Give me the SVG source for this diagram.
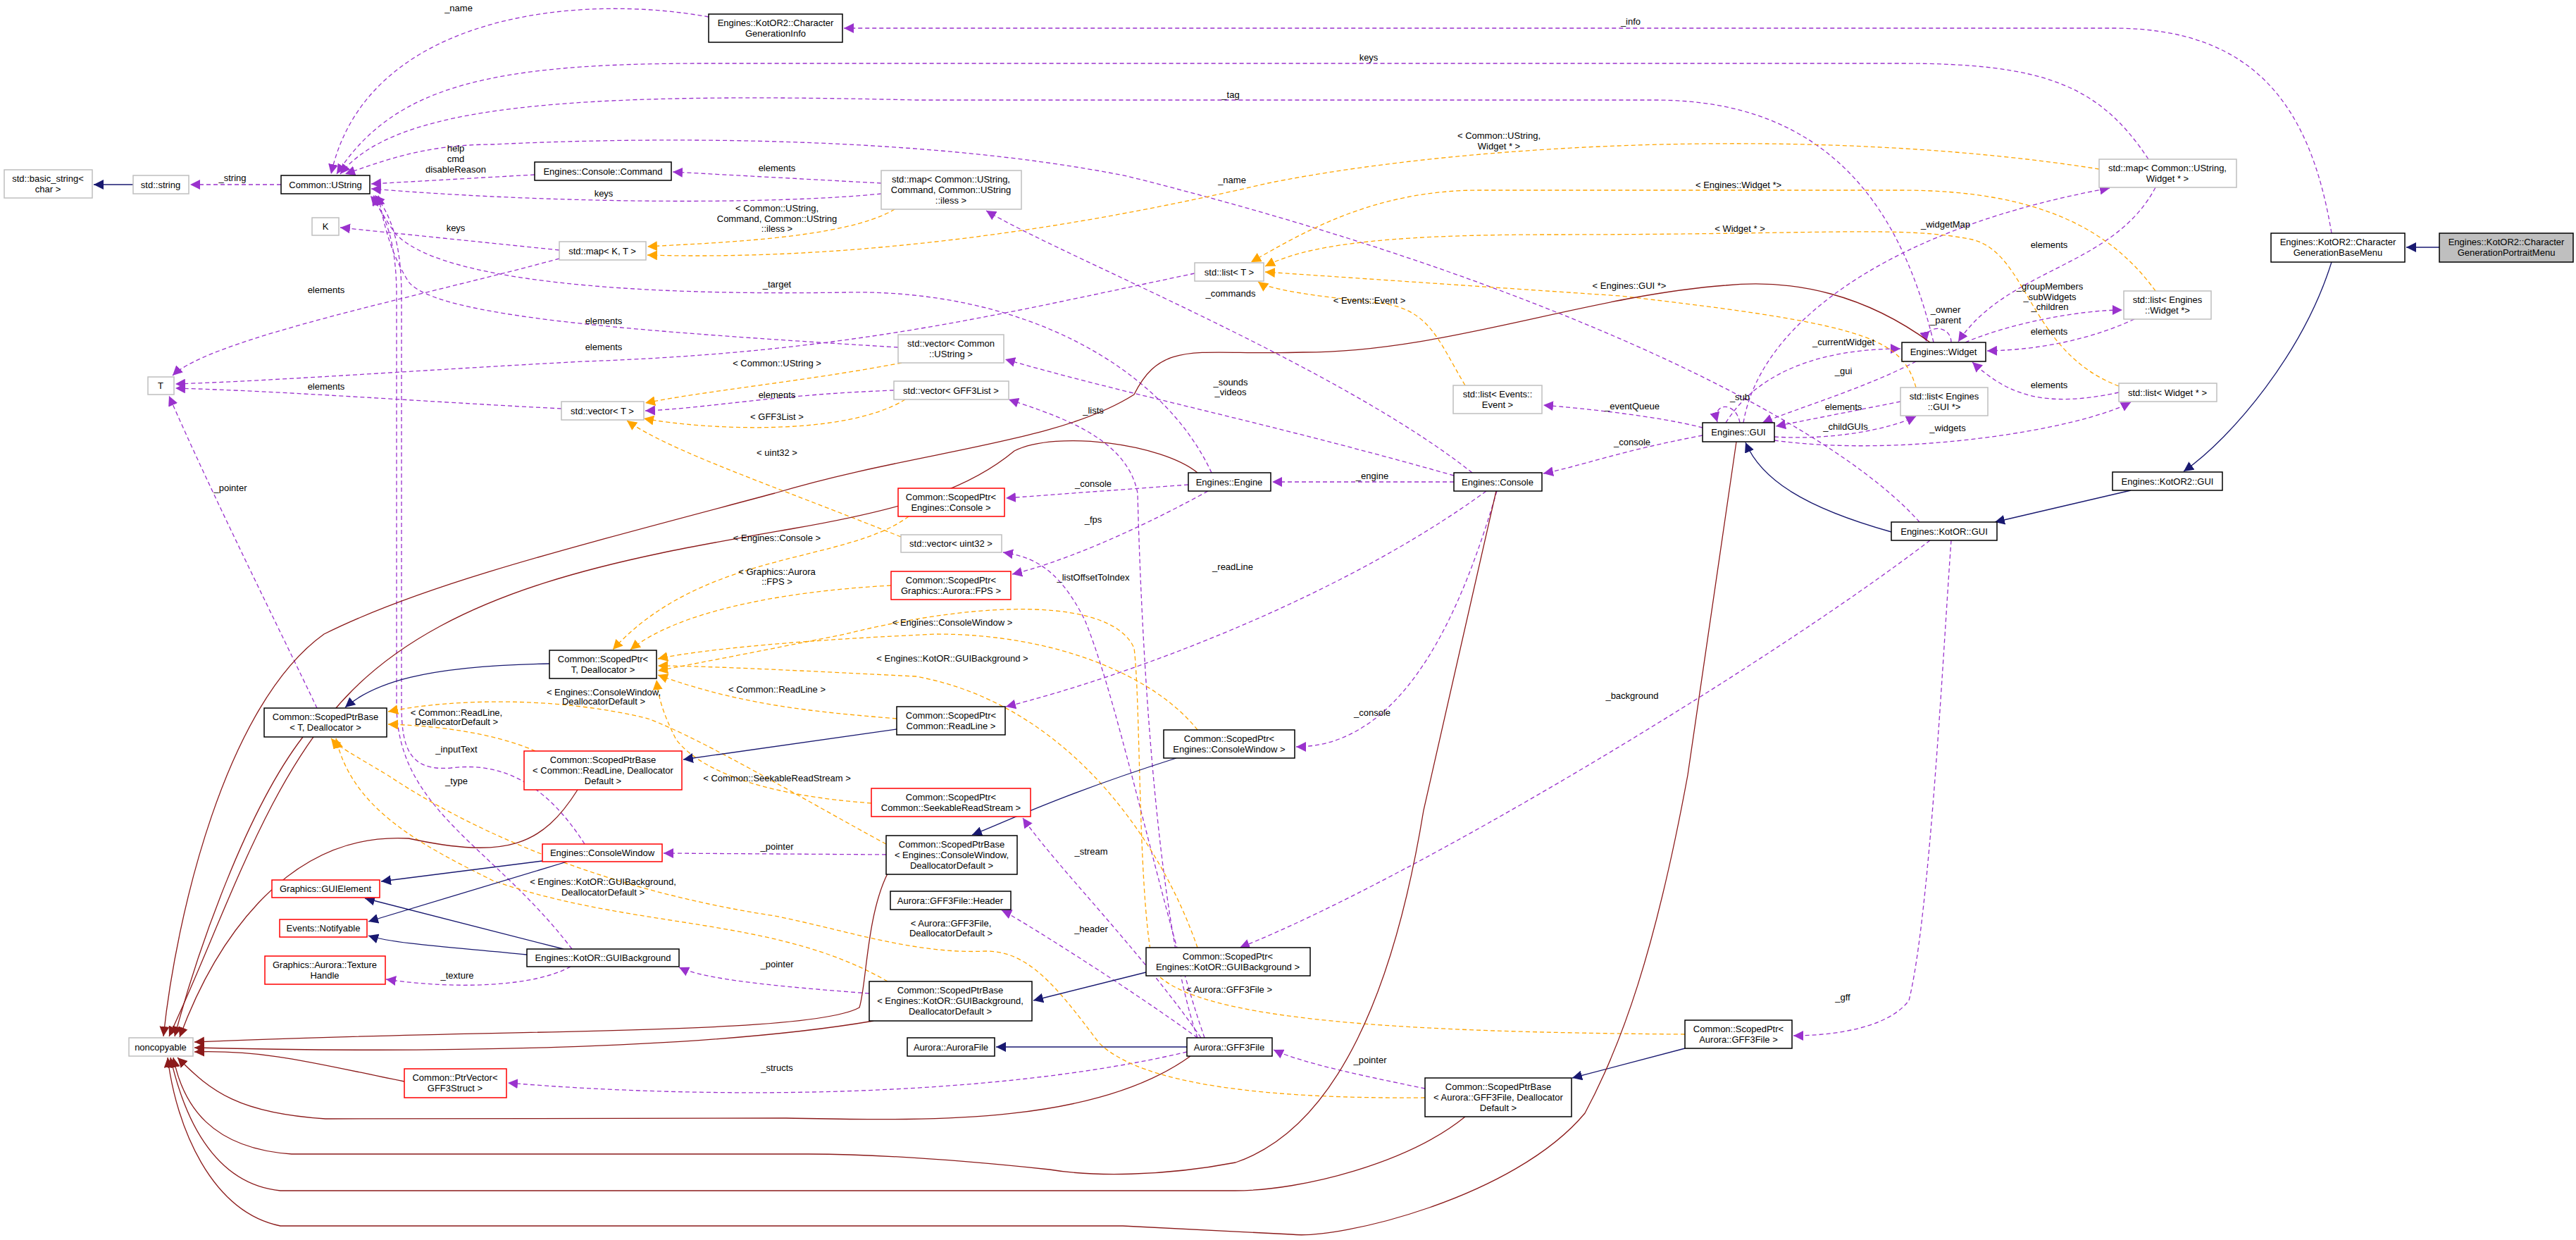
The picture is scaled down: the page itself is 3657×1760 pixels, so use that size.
<svg xmlns="http://www.w3.org/2000/svg" width="3657" height="1760" viewBox="0 0 3657 1760">
<style>
text{font-family:"Liberation Sans",Arial,sans-serif;font-size:13px;fill:#000;text-anchor:middle}
.b{fill:#fff;stroke:#000;stroke-width:1.5}
.g{fill:#fff;stroke:#bfbfbf;stroke-width:1.5}
.r{fill:#fff;stroke:#ff0000;stroke-width:1.5}
.f{fill:#bfbfbf;stroke:#000;stroke-width:1.5}
.p{fill:none;stroke:#9a32cd;stroke-width:1.3;stroke-dasharray:6,4;marker-end:url(#mp)}
.o{fill:none;stroke:#ffa500;stroke-width:1.3;stroke-dasharray:6,4;marker-end:url(#mo)}
.n{fill:none;stroke:#191970;stroke-width:1.3;marker-end:url(#mn)}
.d{fill:none;stroke:#8b1a1a;stroke-width:1.3;marker-end:url(#md)}
</style>
<defs>
<marker id="mp" viewBox="0 0 10 10" refX="10" refY="5" markerWidth="14" markerHeight="14" markerUnits="userSpaceOnUse" orient="auto"><path d="M0,0L10,5L0,10z" fill="#9a32cd"/></marker>
<marker id="mo" viewBox="0 0 10 10" refX="10" refY="5" markerWidth="14" markerHeight="14" markerUnits="userSpaceOnUse" orient="auto"><path d="M0,0L10,5L0,10z" fill="#ffa500"/></marker>
<marker id="mn" viewBox="0 0 10 10" refX="10" refY="5" markerWidth="14" markerHeight="14" markerUnits="userSpaceOnUse" orient="auto"><path d="M0,0L10,5L0,10z" fill="#191970"/></marker>
<marker id="md" viewBox="0 0 10 10" refX="10" refY="5" markerWidth="14" markerHeight="14" markerUnits="userSpaceOnUse" orient="auto"><path d="M0,0L10,5L0,10z" fill="#8b1a1a"/></marker>
</defs>
<rect width="3657" height="1760" fill="#fff"/>
<g id="edges">
<path class="p" d="M1006,24 C820,-10 520,20 470,247"/>
<path class="p" d="M3310,331 C3280,150 3200,40 3000,40 L1198,40"/>
<path class="p" d="M3050,226 C2980,120 2900,90 2700,90 L1000,90 C700,90 560,120 478,247"/>
<path class="p" d="M2745,486 C2700,300 2600,142 2350,142 L1300,142 C800,130 560,150 483,247"/>
<path class="p" d="M2725,741 C2600,600 2200,400 1600,250 C1300,190 900,195 700,205 C600,205 540,230 490,247"/>
<path class="p" d="M759,248 L527,261"/>
<path class="p" d="M1251,260 L955,244"/>
<path class="p" d="M1251,275 C1100,290 800,290 527,268"/>
<path class="p" d="M399,262 L270,262"/>
<path class="p" d="M794,355 L483,323"/>
<path class="p" d="M794,367 C600,420 300,480 245,533"/>
<path class="p" d="M1720,671 C1650,520 1450,410 1200,415 C900,420 620,400 560,330 C540,300 535,290 530,277"/>
<path class="p" d="M1275,493 C900,470 620,450 580,400 C555,360 545,320 537,277"/>
<path class="p" d="M1696,388 C1400,450 1200,500 829,513 C600,525 400,540 249,545"/>
<path class="p" d="M797,580 C600,570 400,555 249,551"/>
<path class="p" d="M1269,554 C1100,560 1000,580 916,583"/>
<path class="p" d="M450,1005 C400,900 300,700 240,562"/>
<path class="p" d="M2090,671 C1900,520 1500,360 1400,299"/>
<path class="p" d="M2064,675 C1800,600 1600,560 1427,510"/>
<path class="p" d="M1700,1473 C1640,1300 1620,900 1615,700 C1600,620 1500,590 1432,567"/>
<path class="p" d="M1710,1473 C1650,1300 1590,1000 1540,880 C1500,800 1460,790 1424,784"/>
<path class="p" d="M1687,688 L1428,707"/>
<path class="p" d="M1715,697 C1600,760 1500,800 1437,815"/>
<path class="p" d="M2064,684 L1806,684"/>
<path class="p" d="M2417,618 C2300,640 2250,660 2191,672"/>
<path class="p" d="M2417,607 C2350,590 2250,580 2191,575"/>
<path class="p" d="M2110,697 C1900,850 1600,960 1428,1003"/>
<path class="p" d="M2125,697 C2080,850 2000,1060 1840,1060"/>
<path class="p" d="M2740,767 C2500,950 2000,1250 1760,1345"/>
<path class="p" d="M2770,767 C2760,900 2740,1300 2710,1420 C2680,1460 2600,1470 2546,1470"/>
<path class="p" d="M2023,1545 C1950,1530 1850,1510 1808,1490"/>
<path class="p" d="M1685,1493 C1400,1560 1000,1560 721,1537"/>
<path class="p" d="M1700,1473 C1600,1400 1440,1300 1422,1292"/>
<path class="p" d="M1705,1473 C1620,1350 1500,1230 1452,1161"/>
<path class="p" d="M1234,1410 C1100,1400 1000,1390 964,1373"/>
<path class="p" d="M810,1372 C760,1400 650,1405 548,1390"/>
<path class="p" d="M1258,1213 L942,1211"/>
<path class="p" d="M830,1198 C780,1120 720,1080 640,1090 C580,1095 570,1060 570,1000 L570,420 C570,340 552,300 532,277"/>
<path class="p" d="M812,1347 C700,1200 563,1150 563,1000 L563,420 C563,340 545,300 526,278"/>
<path class="p" d="M2450,600 C2500,520 2600,495 2698,495"/>
<path class="p" d="M2720,513 C2650,550 2550,580 2502,600"/>
<path class="p" d="M2470,600 C2465,570 2430,570 2438,599"/>
<path class="p" d="M2770,486 C2770,460 2730,460 2735,485"/>
<path class="p" d="M2698,570 L2521,605"/>
<path class="p" d="M2519,620 C2600,625 2680,610 2720,591"/>
<path class="p" d="M2519,625 C2700,650 2950,610 3025,571"/>
<path class="p" d="M3008,557 C2900,580 2850,560 2800,514"/>
<path class="p" d="M2790,486 C2850,460 2950,440 3013,440"/>
<path class="p" d="M3030,453 C2950,490 2870,497 2821,498"/>
<path class="p" d="M3060,266 C3000,380 2850,380 2780,485"/>
<path class="p" d="M2475,600 C2500,450 2700,320 2995,267"/>
<path class="o" d="M1270,297 C1200,340 1000,345 919,350"/>
<path class="o" d="M2980,240 C2600,180 2100,200 1800,260 C1500,330 1200,370 919,362"/>
<path class="o" d="M3060,413 C3000,330 2900,270 2700,270 L2100,270 C1950,270 1850,330 1776,372"/>
<path class="o" d="M3008,548 C2880,500 2880,360 2800,340 C2700,320 2600,333 2200,333 C1950,333 1850,350 1796,378"/>
<path class="o" d="M2720,550 C2700,480 2650,460 2300,420 L1796,386"/>
<path class="o" d="M2080,547 C2040,480 2030,440 1960,430 C1860,420 1800,410 1786,400"/>
<path class="o" d="M1280,515 C1150,540 1000,555 916,572"/>
<path class="o" d="M1285,567 C1200,620 1000,610 914,594"/>
<path class="o" d="M1279,762 C1100,690 950,640 890,597"/>
<path class="o" d="M1290,733 C1200,800 1000,780 870,922"/>
<path class="o" d="M1265,831 C1100,840 960,870 895,922"/>
<path class="o" d="M1700,1036 C1640,960 1500,900 1330,900 C1100,910 980,925 934,935"/>
<path class="o" d="M1700,1345 C1650,1200 1520,1000 1300,960 C1100,950 990,945 934,945"/>
<path class="o" d="M1273,1020 C1150,1010 1050,1000 934,958"/>
<path class="o" d="M1237,1140 C1100,1130 1000,1100 960,1050 C940,1010 935,990 932,965"/>
<path class="o" d="M2392,1468 C2000,1465 1700,1450 1640,1380 C1615,1300 1620,1000 1610,920 C1580,850 1400,850 1200,900 C1050,930 970,945 934,952"/>
<path class="o" d="M760,1066 C700,1040 620,1030 551,1028"/>
<path class="o" d="M1258,1198 C1150,1140 1000,1050 920,1020 C800,990 650,990 551,1010"/>
<path class="o" d="M1260,1393 C1100,1300 900,1320 700,1250 C600,1200 500,1150 477,1048"/>
<path class="o" d="M2023,1558 C1800,1560 1620,1540 1560,1480 C1500,1400 1460,1350 1400,1350 C1300,1355 1200,1320 1100,1300 C900,1270 700,1200 550,1100 C500,1070 480,1060 470,1048"/>
<path class="n" d="M3463,351 L3416,351"/>
<path class="n" d="M3310,372 C3270,500 3170,620 3100,669"/>
<path class="n" d="M3025,696 L2832,741"/>
<path class="n" d="M2685,755 C2560,720 2500,680 2478,628"/>
<path class="n" d="M780,942 C600,945 530,970 490,1004"/>
<path class="n" d="M1273,1035 L970,1078"/>
<path class="n" d="M1670,1076 C1500,1130 1420,1170 1380,1185"/>
<path class="n" d="M1627,1380 L1467,1420"/>
<path class="n" d="M2392,1488 L2232,1530"/>
<path class="n" d="M770,1222 L541,1251"/>
<path class="n" d="M805,1223 L523,1308"/>
<path class="n" d="M800,1347 L518,1275"/>
<path class="n" d="M748,1355 C650,1345 560,1340 523,1328"/>
<path class="n" d="M1685,1486 L1414,1486"/>
<path class="n" d="M189,262 L133,262"/>
<path class="d" d="M2740,486 C2650,420 2550,395 2450,405 C2250,420 2050,500 1850,500 C1700,505 1650,480 1610,560 C1500,630 1300,640 1100,700 C800,780 600,830 460,900 C320,1000 250,1300 232,1471"/>
<path class="d" d="M1700,671 C1650,630 1500,610 1440,640 C1380,690 1300,720 1127,750 C900,790 650,830 500,980 C380,1100 320,1300 240,1471"/>
<path class="d" d="M430,1046 C350,1150 280,1350 248,1471"/>
<path class="d" d="M820,1121 C770,1200 720,1220 580,1190 C400,1180 300,1350 255,1472"/>
<path class="d" d="M1260,1240 C1230,1300 1230,1400 1220,1430 C1150,1470 700,1460 276,1479"/>
<path class="d" d="M1240,1449 C1000,1490 600,1495 276,1487"/>
<path class="d" d="M574,1535 C450,1510 380,1490 276,1493"/>
<path class="d" d="M1690,1499 C1550,1600 1300,1590 1116,1587 L462,1588 C340,1580 300,1550 252,1501"/>
<path class="d" d="M2124,697 L2021,1150 C1980,1400 1900,1600 1754,1650 C1650,1670 1550,1670 1490,1660 C1300,1640 1200,1638 1148,1638 L414,1638 C300,1630 260,1570 246,1501"/>
<path class="d" d="M2465,627 L2396,1100 C2350,1350 2302,1483 2250,1580 C2150,1700 1900,1760 1833,1752 C1700,1745 1600,1740 1594,1740 L398,1740 C300,1720 250,1600 238,1501"/>
<path class="d" d="M2080,1585 C2000,1650 1850,1690 1753,1690 L398,1690 C300,1680 260,1580 242,1501"/>
</g>
<g id="labels">
<text x="651" y="16">_name</text>
<text x="2315" y="35">_info</text>
<text x="1943" y="86">keys</text>
<text x="1747" y="139">_tag</text>
<text x="2128" y="197">&lt; Common::UString,</text><text x="2128" y="212">Widget * &gt;</text>
<text x="1749" y="260">_name</text>
<text x="2468" y="267">&lt; Engines::Widget *&gt;</text>
<text x="2470" y="329">&lt; Widget * &gt;</text>
<text x="2313" y="410">&lt; Engines::GUI *&gt;</text>
<text x="1747" y="421">_commands</text>
<text x="1944" y="431">&lt; Events::Event &gt;</text>
<text x="1747" y="547">_sounds</text><text x="1747" y="561">_videos</text>
<text x="1552" y="587">_lists</text>
<text x="2317" y="581">_eventQueue</text>
<text x="2470" y="568">_sub</text>
<text x="2762" y="323">_widgetMap</text>
<text x="2909" y="352">elements</text>
<text x="2910" y="411">_groupMembers</text><text x="2910" y="426">_subWidgets</text><text x="2910" y="440">_children</text>
<text x="2762" y="444">_owner</text><text x="2762" y="459">_parent</text>
<text x="2909" y="475">elements</text>
<text x="2617" y="490">_currentWidget</text>
<text x="2617" y="531">_gui</text>
<text x="2909" y="551">elements</text>
<text x="2617" y="582">elements</text>
<text x="2620" y="610">_childGUIs</text>
<text x="2765" y="612">_widgets</text>
<text x="327" y="697">_pointer</text>
<text x="1103" y="647">&lt; uint32 &gt;</text>
<text x="1103" y="768">&lt; Engines::Console &gt;</text>
<text x="1103" y="816">&lt; Graphics::Aurora</text><text x="1103" y="830">::FPS &gt;</text>
<text x="857" y="987">&lt; Engines::ConsoleWindow,</text><text x="857" y="1000">DeallocatorDefault &gt;</text>
<text x="1103" y="983">&lt; Common::ReadLine &gt;</text>
<text x="648" y="1016">&lt; Common::ReadLine,</text><text x="648" y="1029">DeallocatorDefault &gt;</text>
<text x="648" y="1068">_inputText</text>
<text x="648" y="1113">_type</text>
<text x="1103" y="1109">&lt; Common::SeekableReadStream &gt;</text>
<text x="1103" y="596">&lt; GFF3List &gt;</text>
<text x="1103" y="520">&lt; Common::UString &gt;</text>
<text x="1103" y="565">elements</text>
<text x="463" y="553">elements</text>
<text x="857" y="497">elements</text>
<text x="857" y="460">elements</text>
<text x="463" y="416">elements</text>
<text x="1103" y="408">_target</text>
<text x="1103" y="300">&lt; Common::UString,</text><text x="1103" y="315">Command, Common::UString</text><text x="1103" y="329">::iless &gt;</text>
<text x="647" y="328">keys</text>
<text x="857" y="279">keys</text>
<text x="1103" y="243">elements</text>
<text x="647" y="215">help</text><text x="647" y="230">cmd</text><text x="647" y="245">disableReason</text>
<text x="330" y="257">_string</text>
<text x="1552" y="691">_console</text>
<text x="1948" y="680">_engine</text>
<text x="2317" y="632">_console</text>
<text x="1552" y="742">_fps</text>
<text x="1552" y="824">_listOffsetToIndex</text>
<text x="1750" y="809">_readLine</text>
<text x="1352" y="888">&lt; Engines::ConsoleWindow &gt;</text>
<text x="1352" y="939">&lt; Engines::KotOR::GUIBackground &gt;</text>
<text x="2317" y="992">_background</text>
<text x="1948" y="1016">_console</text>
<text x="1103" y="1206">_pointer</text>
<text x="1549" y="1213">_stream</text>
<text x="856" y="1256">&lt; Engines::KotOR::GUIBackground,</text><text x="856" y="1271">DeallocatorDefault &gt;</text>
<text x="1350" y="1315">&lt; Aurora::GFF3File,</text><text x="1350" y="1329">DeallocatorDefault &gt;</text>
<text x="1549" y="1323">_header</text>
<text x="1103" y="1373">_pointer</text>
<text x="649" y="1389">_texture</text>
<text x="1745" y="1409">&lt; Aurora::GFF3File &gt;</text>
<text x="1103" y="1520">_structs</text>
<text x="1945" y="1509">_pointer</text>
<text x="2616" y="1420">_gff</text>
</g>
<g id="n1"><rect class="b" x="1006" y="20" width="190" height="40"/><text x="1101" y="37">Engines::KotOR2::Character</text><text x="1101" y="52">GenerationInfo</text></g>
<g id="n2"><rect class="g" x="6" y="241" width="125" height="40"/><text x="68" y="258">std::basic_string&lt;</text><text x="68" y="273">char &gt;</text></g>
<g id="n3"><rect class="g" x="189" y="249" width="79" height="26"/><text x="228" y="267">std::string</text></g>
<g id="n4"><rect class="b" x="399" y="249" width="126" height="26"/><text x="462" y="267">Common::UString</text></g>
<g id="n5"><rect class="b" x="759" y="230" width="194" height="26"/><text x="856" y="248">Engines::Console::Command</text></g>
<g id="n6"><rect class="g" x="443" y="309" width="38" height="25"/><text x="462" y="326">K</text></g>
<g id="n7"><rect class="g" x="794" y="343" width="123" height="26"/><text x="855" y="361">std::map&lt; K, T &gt;</text></g>
<g id="n8"><rect class="g" x="210" y="535" width="37" height="25"/><text x="228" y="552">T</text></g>
<g id="n9"><rect class="g" x="797" y="570" width="117" height="26"/><text x="855" y="588">std::vector&lt; T &gt;</text></g>
<g id="n10"><rect class="g" x="1251" y="242" width="199" height="55"/><text x="1350" y="259">std::map&lt; Common::UString,</text><text x="1350" y="274">Command, Common::UString</text><text x="1350" y="289">::iless &gt;</text></g>
<g id="n11"><rect class="g" x="1696" y="373" width="98" height="26"/><text x="1745" y="391">std::list&lt; T &gt;</text></g>
<g id="n12"><rect class="g" x="1275" y="475" width="150" height="40"/><text x="1350" y="492">std::vector&lt; Common</text><text x="1350" y="507">::UString &gt;</text></g>
<g id="n13"><rect class="g" x="1269" y="541" width="163" height="26"/><text x="1350" y="559">std::vector&lt; GFF3List &gt;</text></g>
<g id="n14"><rect class="g" x="2063" y="547" width="126" height="40"/><text x="2126" y="564">std::list&lt; Events::</text><text x="2126" y="579">Event &gt;</text></g>
<g id="n15"><rect class="g" x="2980" y="226" width="195" height="40"/><text x="3077" y="243">std::map&lt; Common::UString,</text><text x="3077" y="258">Widget * &gt;</text></g>
<g id="n16"><rect class="g" x="3015" y="413" width="124" height="40"/><text x="3077" y="430">std::list&lt; Engines</text><text x="3077" y="445">::Widget *&gt;</text></g>
<g id="n17"><rect class="b" x="2700" y="486" width="119" height="27"/><text x="2759" y="504">Engines::Widget</text></g>
<g id="n18"><rect class="g" x="3008" y="544" width="139" height="26"/><text x="3077" y="562">std::list&lt; Widget * &gt;</text></g>
<g id="n19"><rect class="g" x="2698" y="550" width="124" height="40"/><text x="2760" y="567">std::list&lt; Engines</text><text x="2760" y="582">::GUI *&gt;</text></g>
<g id="n20"><rect class="b" x="2417" y="600" width="102" height="27"/><text x="2468" y="618">Engines::GUI</text></g>
<g id="n21"><rect class="b" x="3224" y="331" width="190" height="41"/><text x="3319" y="348">Engines::KotOR2::Character</text><text x="3319" y="363">GenerationBaseMenu</text></g>
<g id="n22"><rect class="f" x="3463" y="331" width="190" height="41"/><text x="3558" y="348">Engines::KotOR2::Character</text><text x="3558" y="363">GenerationPortraitMenu</text></g>
<g id="n23"><rect class="b" x="2999" y="670" width="156" height="26"/><text x="3077" y="688">Engines::KotOR2::GUI</text></g>
<g id="n24"><rect class="b" x="2685" y="741" width="150" height="26"/><text x="2760" y="759">Engines::KotOR::GUI</text></g>
<g id="n25"><rect class="b" x="780" y="923" width="152" height="40"/><text x="856" y="940">Common::ScopedPtr&lt;</text><text x="856" y="955">T, Deallocator &gt;</text></g>
<g id="n26"><rect class="b" x="375" y="1005" width="174" height="41"/><text x="462" y="1022">Common::ScopedPtrBase</text><text x="462" y="1037">&lt; T, Deallocator &gt;</text></g>
<g id="n27"><rect class="r" x="744" y="1066" width="224" height="55"/><text x="856" y="1083">Common::ScopedPtrBase</text><text x="856" y="1098">&lt; Common::ReadLine, Deallocator</text><text x="856" y="1113">Default &gt;</text></g>
<g id="n28"><rect class="b" x="1687" y="671" width="117" height="26"/><text x="1745" y="689">Engines::Engine</text></g>
<g id="n29"><rect class="b" x="2064" y="671" width="125" height="26"/><text x="2126" y="689">Engines::Console</text></g>
<g id="n30"><rect class="r" x="1275" y="693" width="151" height="40"/><text x="1350" y="710">Common::ScopedPtr&lt;</text><text x="1350" y="725">Engines::Console &gt;</text></g>
<g id="n31"><rect class="g" x="1279" y="759" width="143" height="25"/><text x="1350" y="776">std::vector&lt; uint32 &gt;</text></g>
<g id="n32"><rect class="r" x="1265" y="811" width="170" height="40"/><text x="1350" y="828">Common::ScopedPtr&lt;</text><text x="1350" y="843">Graphics::Aurora::FPS &gt;</text></g>
<g id="n33"><rect class="b" x="1273" y="1003" width="154" height="40"/><text x="1350" y="1020">Common::ScopedPtr&lt;</text><text x="1350" y="1035">Common::ReadLine &gt;</text></g>
<g id="n34"><rect class="b" x="1652" y="1036" width="186" height="40"/><text x="1745" y="1053">Common::ScopedPtr&lt;</text><text x="1745" y="1068">Engines::ConsoleWindow &gt;</text></g>
<g id="n35"><rect class="r" x="1237" y="1119" width="226" height="40"/><text x="1350" y="1136">Common::ScopedPtr&lt;</text><text x="1350" y="1151">Common::SeekableReadStream &gt;</text></g>
<g id="n36"><rect class="b" x="1258" y="1186" width="186" height="55"/><text x="1351" y="1203">Common::ScopedPtrBase</text><text x="1351" y="1218">&lt; Engines::ConsoleWindow,</text><text x="1351" y="1233">DeallocatorDefault &gt;</text></g>
<g id="n37"><rect class="r" x="770" y="1198" width="170" height="25"/><text x="855" y="1215">Engines::ConsoleWindow</text></g>
<g id="n38"><rect class="r" x="386" y="1249" width="153" height="25"/><text x="462" y="1266">Graphics::GUIElement</text></g>
<g id="n39"><rect class="r" x="397" y="1305" width="124" height="25"/><text x="459" y="1322">Events::Notifyable</text></g>
<g id="n40"><rect class="b" x="748" y="1347" width="216" height="25"/><text x="856" y="1364">Engines::KotOR::GUIBackground</text></g>
<g id="n41"><rect class="r" x="376" y="1357" width="171" height="40"/><text x="461" y="1374">Graphics::Aurora::Texture</text><text x="461" y="1389">Handle</text></g>
<g id="n42"><rect class="b" x="1264" y="1265" width="171" height="26"/><text x="1349" y="1283">Aurora::GFF3File::Header</text></g>
<g id="n43"><rect class="b" x="1627" y="1345" width="233" height="40"/><text x="1743" y="1362">Common::ScopedPtr&lt;</text><text x="1743" y="1377">Engines::KotOR::GUIBackground &gt;</text></g>
<g id="n44"><rect class="b" x="1234" y="1393" width="231" height="56"/><text x="1349" y="1410">Common::ScopedPtrBase</text><text x="1349" y="1425">&lt; Engines::KotOR::GUIBackground,</text><text x="1349" y="1440">DeallocatorDefault &gt;</text></g>
<g id="n45"><rect class="g" x="183" y="1473" width="91" height="26"/><text x="228" y="1491">noncopyable</text></g>
<g id="n46"><rect class="b" x="1288" y="1473" width="124" height="26"/><text x="1350" y="1491">Aurora::AuroraFile</text></g>
<g id="n47"><rect class="b" x="1685" y="1473" width="121" height="26"/><text x="1745" y="1491">Aurora::GFF3File</text></g>
<g id="n48"><rect class="r" x="574" y="1517" width="145" height="41"/><text x="646" y="1534">Common::PtrVector&lt;</text><text x="646" y="1549">GFF3Struct &gt;</text></g>
<g id="n49"><rect class="b" x="2392" y="1448" width="152" height="40"/><text x="2468" y="1465">Common::ScopedPtr&lt;</text><text x="2468" y="1480">Aurora::GFF3File &gt;</text></g>
<g id="n50"><rect class="b" x="2023" y="1530" width="208" height="55"/><text x="2127" y="1547">Common::ScopedPtrBase</text><text x="2127" y="1562">&lt; Aurora::GFF3File, Deallocator</text><text x="2127" y="1577">Default &gt;</text></g>
</svg>
